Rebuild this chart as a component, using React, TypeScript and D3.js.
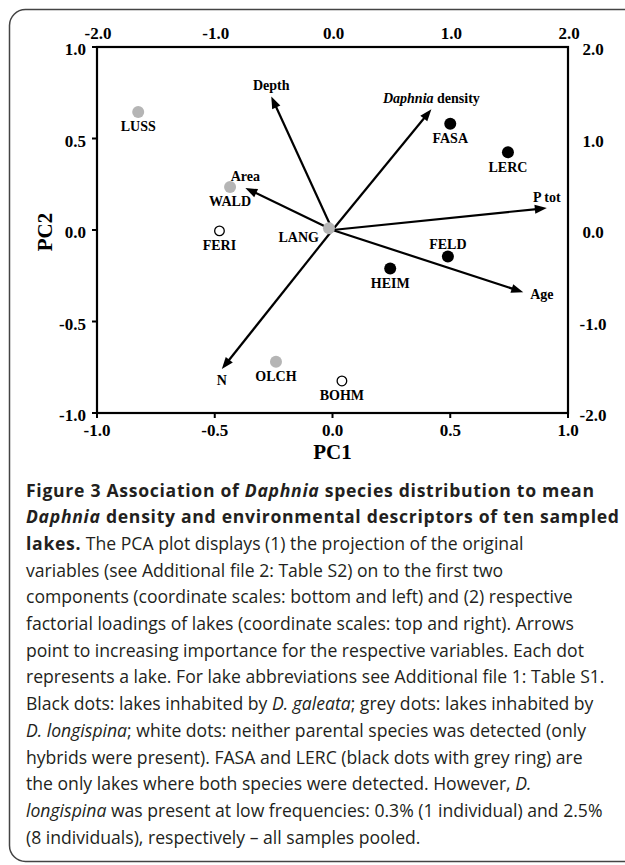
import React from "react";
import * as d3 from "d3";

const W = 625;
const H = 865;

// lake scores, read on the top / right scales (-2..2)
const lakeNames = ["LUSS", "WALD", "FERI", "LANG", "FASA", "LERC", "FELD", "HEIM", "OLCH", "BOHM"];
const lakeX = [-1.65, -0.87, -0.96, -0.03, 1.0, 1.49, 0.98, 0.49, -0.48, 0.08];
const lakeY = [1.29, 0.47, -0.01, 0.02, 1.16, 0.85, -0.29, -0.42, -1.44, -1.65];
const lakeType = ["grey", "grey", "white", "grey", "black", "black", "black", "black", "grey", "white"];
const lakeLabelSide = ["below", "below", "below", "left", "below", "below", "above", "below", "below", "below"];

// variable loadings, read on the bottom / left scales (-1..1)
const varNames = ["Depth", "Daphnia density", "Area", "P tot", "Age", "N"];
const varX = [-0.26, 0.42, -0.37, 0.91, 0.81, -0.47];
const varY = [0.73, 0.66, 0.23, 0.12, -0.34, -0.76];
const varLabelSide = ["above", "above", "above", "above", "right", "below"];

const pcTicks = [-1, -0.5, 0, 0.5, 1];
const scoreTicks = [-2, -1, 0, 1, 2];

type Seg = { t: string; b?: boolean; i?: boolean };
const caption: Seg[][] = [
  [{ t: "Figure 3 Association of ", b: true }, { t: "Daphnia", b: true, i: true }, { t: " species distribution to mean", b: true }],
  [{ t: "Daphnia", b: true, i: true }, { t: " density and environmental descriptors of ten sampled", b: true }],
  [{ t: "lakes.", b: true }, { t: " The PCA plot displays (1) the projection of the original" }],
  [{ t: "variables (see Additional file 2: Table S2) on to the first two" }],
  [{ t: "components (coordinate scales: bottom and left) and (2) respective" }],
  [{ t: "factorial loadings of lakes (coordinate scales: top and right). Arrows" }],
  [{ t: "point to increasing importance for the respective variables. Each dot" }],
  [{ t: "represents a lake. For lake abbreviations see Additional file 1: Table S1." }],
  [{ t: "Black dots: lakes inhabited by " }, { t: "D. galeata", i: true }, { t: "; grey dots: lakes inhabited by" }],
  [{ t: "D. longispina", i: true }, { t: "; white dots: neither parental species was detected (only" }],
  [{ t: "hybrids were present). FASA and LERC (black dots with grey ring) are" }],
  [{ t: "the only lakes where both species were detected. However, " }, { t: "D.", i: true }],
  [{ t: "longispina", i: true }, { t: " was present at low frequencies: 0.3% (1 individual) and 2.5%" }],
  [{ t: "(8 individuals), respectively \u2013 all samples pooled." }],
];

const serif = "'Liberation Serif', 'Times New Roman', serif";
const sans = "'Open Sans', 'Noto Sans', sans-serif";

const plot = { left: 97, right: 568, top: 47, bottom: 413 };

const fmt = (v: number) => v.toFixed(1);

export default function App() {
  const x = d3.scaleLinear().domain([-1, 1]).range([plot.left, plot.right]);
  const y = d3.scaleLinear().domain([-1, 1]).range([plot.bottom, plot.top]);
  const x2 = d3.scaleLinear().domain([-2, 2]).range([plot.left, plot.right]);
  const y2 = d3.scaleLinear().domain([-2, 2]).range([plot.bottom, plot.top]);

  const ox = x(0);
  const oy = y(0);

  const arrows = varNames.map((name, k) => {
    const tx = x(varX[k]);
    const ty = y(varY[k]);
    const len = Math.hypot(tx - ox, ty - oy);
    const ux = (tx - ox) / len;
    const uy = (ty - oy) / len;
    const hl = 12;
    const hw = 4.5;
    const bx = tx - ux * hl;
    const by = ty - uy * hl;
    const head = d3.path();
    head.moveTo(tx, ty);
    head.lineTo(bx - uy * hw, by + ux * hw);
    head.lineTo(bx + uy * hw, by - ux * hw);
    head.closePath();
    return { name, tx, ty, ex: tx - ux * (hl - 2), ey: ty - uy * (hl - 2), head: head.toString(), side: varLabelSide[k] };
  });

  const lineH = 26.7;
  const capTop = 496.5;

  return (
    <svg width={W} height={H} style={{ position: "absolute", left: 0, top: 0 }}>
      <rect x={0} y={0} width={W} height={H} fill="#fff" />
      <rect x={9.5} y={9.5} width={700} height={852} rx={16} fill="none" stroke="#444" strokeWidth={1.5} />

      {/* frame */}
      <rect x={plot.left} y={plot.top} width={plot.right - plot.left} height={plot.bottom - plot.top} fill="none" stroke="#000" strokeWidth={2.2} />

      <g fontFamily={serif} fontWeight="bold" fontSize={17} fill="#000">
        {/* left axis */}
        {pcTicks.map((t) => (
          <g key={"l" + t}>
            <line x1={plot.left - 5} x2={plot.left} y1={y(t)} y2={y(t)} stroke="#000" strokeWidth={2} />
            <text x={plot.left - 11} y={y(t) + 2.5} textAnchor="end" dominantBaseline="central">{fmt(t)}</text>
          </g>
        ))}
        {/* bottom axis */}
        {pcTicks.map((t) => (
          <g key={"b" + t}>
            <line x1={x(t)} x2={x(t)} y1={plot.bottom} y2={plot.bottom + 5} stroke="#000" strokeWidth={2} />
            <text x={x(t)} y={plot.bottom + 17} textAnchor="middle" dominantBaseline="central">{fmt(t)}</text>
          </g>
        ))}
        {/* top axis */}
        {scoreTicks.map((t) => (
          <text key={"t" + t} x={x2(t) + 1} y={plot.top - 14} textAnchor="middle" dominantBaseline="central">{fmt(t)}</text>
        ))}
        {/* right axis */}
        {scoreTicks.map((t) => (
          <text key={"r" + t} x={plot.right + 25} y={y2(t) + 2.5} textAnchor="middle" dominantBaseline="central">{fmt(t)}</text>
        ))}
        <text x={x(0)} y={plot.bottom + 39} textAnchor="middle" dominantBaseline="central" fontSize={21}>PC1</text>
        <text transform={`translate(45,${y(0) + 2}) rotate(-90)`} textAnchor="middle" dominantBaseline="central" fontSize={21}>PC2</text>
      </g>

      {/* loadings */}
      <g fontFamily={serif} fontWeight="bold" fontSize={14}>
        {arrows.map((a) => (
          <g key={a.name}>
            <line x1={ox} y1={oy} x2={a.ex} y2={a.ey} stroke="#000" strokeWidth={2.2} />
            <path d={a.head} fill="#000" />
            {a.side === "above" && (
              <text x={a.tx} y={a.ty - 11} textAnchor="middle" dominantBaseline="central">
                {a.name === "Daphnia density" ? (
                  <>
                    <tspan fontStyle="italic">Daphnia</tspan> density
                  </>
                ) : (
                  a.name
                )}
              </text>
            )}
            {a.side === "below" && (
              <text x={a.tx} y={a.ty + 11} textAnchor="middle" dominantBaseline="central">{a.name}</text>
            )}
            {a.side === "right" && (
              <text x={a.tx + 7} y={a.ty + 2.5} textAnchor="start" dominantBaseline="central">{a.name}</text>
            )}
          </g>
        ))}
      </g>

      {/* lakes */}
      <g fontFamily={serif} fontWeight="bold" fontSize={14}>
        {lakeNames.map((n, k) => {
          const cx = x2(lakeX[k]);
          const cy = y2(lakeY[k]);
          const side = lakeLabelSide[k];
          const type = lakeType[k];
          return (
            <g key={n}>
              {type === "white" ? (
                <circle cx={cx} cy={cy} r={4.8} fill="#fff" stroke="#000" strokeWidth={1.3} />
              ) : (
                <circle cx={cx} cy={cy} r={6} fill={type === "grey" ? "#b5b5b5" : "#000"} />
              )}
              {side === "below" && (
                <text x={cx} y={cy + 15} textAnchor="middle" dominantBaseline="central">{n}</text>
              )}
              {side === "above" && (
                <text x={cx} y={cy - 12} textAnchor="middle" dominantBaseline="central">{n}</text>
              )}
              {side === "left" && (
                <text x={cx - 10} y={cy + 9.5} textAnchor="end" dominantBaseline="central">{n}</text>
              )}
            </g>
          );
        })}
      </g>

      {/* caption */}
      <g fontFamily={sans} fontSize={17.6} fill="#231f20">
        {caption.map((line, i) => (
          <text key={i} x={26} y={capTop + i * lineH}>
            {line.map((s, j) => (
              <tspan
                key={j}
                fontWeight={s.b ? "bold" : "normal"}
                fontStyle={s.i ? "italic" : "normal"}
                letterSpacing={s.b ? 0.7 : 0}
              >
                {s.t}
              </tspan>
            ))}
          </text>
        ))}
      </g>
    </svg>
  );
}
